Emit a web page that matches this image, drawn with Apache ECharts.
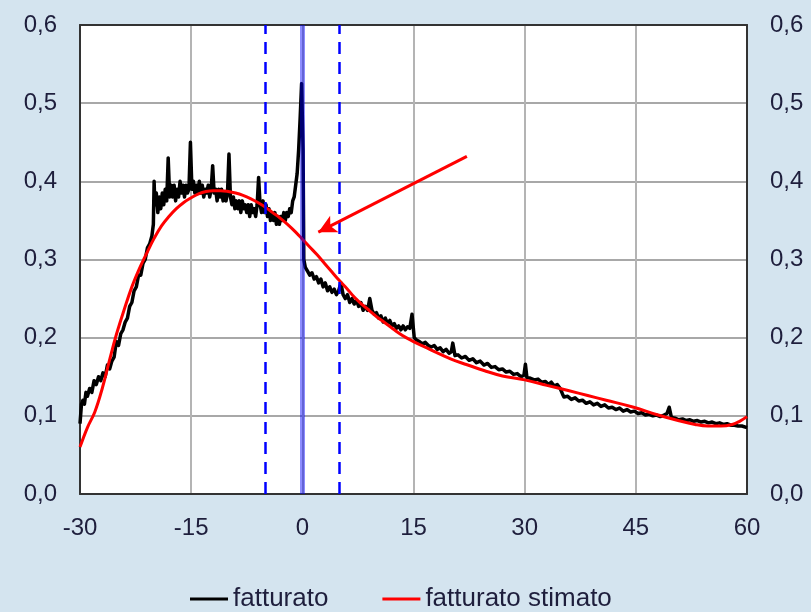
<!DOCTYPE html>
<html>
<head>
<meta charset="utf-8">
<script src="https://cdn.jsdelivr.net/npm/echarts@6/dist/echarts.min.js"></script>
<style>
html,body{margin:0;padding:0;background:#d4e4ef;}
#c{width:811px;height:612px;}
</style>
</head>
<body>
<div id="c"></div>
<script>
const fatturatoRise = [[-30,0.09],[-29.8,0.115],[-29.6,0.12],[-29.4,0.115],[-29.2,0.13],[-29,0.125],[-28.7,0.135],[-28.4,0.13],[-28.1,0.145],[-27.8,0.14],[-27.5,0.15],[-27.2,0.145],[-26.9,0.155],[-26.6,0.15],[-26.3,0.165],[-26,0.16],[-25.7,0.17],[-25.4,0.175],[-25.1,0.195],[-24.8,0.19],[-24.5,0.205],[-24.2,0.21],[-23.9,0.22],[-23.6,0.225],[-23.3,0.24],[-23,0.245],[-22.7,0.26],[-22.4,0.265],[-22.1,0.28],[-21.8,0.28],[-21.5,0.295],[-21.2,0.30],[-20.9,0.315],[-20.6,0.32],[-20.3,0.33],[-20.1,0.345]];
const fatturatoPlateau = [[-20.0,0.40],[-19.9,0.37],[-19.7,0.385],[-19.5,0.36],[-19.3,0.38],[-19.1,0.365],[-18.9,0.385],[-18.7,0.37],[-18.5,0.39],[-18.3,0.375],[-18.1,0.43],[-17.9,0.38],[-17.7,0.395],[-17.5,0.38],[-17.3,0.395],[-17.1,0.375],[-16.9,0.39],[-16.7,0.38],[-16.5,0.40],[-16.3,0.385],[-16.1,0.395],[-15.9,0.38],[-15.7,0.395],[-15.5,0.385],[-15.3,0.39],[-15.1,0.45],[-14.9,0.39],[-14.7,0.40],[-14.5,0.385],[-14.3,0.395],[-14.1,0.385],[-13.9,0.40],[-13.7,0.385],[-13.5,0.395],[-13.3,0.38],[-13.1,0.39],[-12.9,0.385],[-12.7,0.395],[-12.5,0.38],[-12.3,0.39],[-12.1,0.42],[-11.9,0.385],[-11.7,0.39],[-11.5,0.375],[-11.3,0.39],[-11.1,0.38],[-10.9,0.39],[-10.7,0.375],[-10.5,0.385],[-10.3,0.375],[-10.1,0.385],[-9.9,0.435],[-9.7,0.38],[-9.5,0.37],[-9.3,0.38],[-9.1,0.365],[-8.9,0.375],[-8.7,0.365],[-8.5,0.375],[-8.3,0.36],[-8.1,0.375],[-7.9,0.365],[-7.7,0.37],[-7.5,0.36],[-7.3,0.37],[-7.1,0.355],[-6.9,0.37],[-6.7,0.36],[-6.5,0.365],[-6.3,0.355],[-6.1,0.37],[-5.9,0.405],[-5.7,0.37],[-5.5,0.36],[-5.3,0.375],[-5.1,0.36],[-4.9,0.37],[-4.7,0.355],[-4.5,0.365],[-4.3,0.35],[-4.1,0.36],[-3.9,0.35],[-3.7,0.36],[-3.5,0.345],[-3.3,0.355],[-3.1,0.345],[-2.9,0.355],[-2.7,0.35],[-2.5,0.36],[-2.3,0.35],[-2.1,0.36],[-1.9,0.355],[-1.7,0.365],[-1.5,0.36],[-1.3,0.375],[-1.1,0.38],[-0.9,0.395],[-0.7,0.41],[-0.5,0.44],[-0.3,0.48],[-0.1,0.525],[0.1,0.44]];
const fatturatoDrop = [[0.2,0.30],[0.4,0.29],[0.7,0.285],[1.0,0.28],[1.3,0.283],[1.6,0.275],[1.9,0.278],[2.2,0.27],[2.5,0.275],[2.8,0.265],[3.1,0.27],[3.4,0.26],[3.7,0.265],[4.0,0.258],[4.3,0.262],[4.6,0.255],[4.9,0.26],[5.2,0.27],[5.5,0.255],[5.8,0.25],[6.1,0.255],[6.4,0.245],[6.7,0.25],[7.0,0.243],[7.3,0.248],[7.6,0.24],[7.9,0.245],[8.2,0.235],[8.5,0.24],[8.8,0.235],[9.1,0.25],[9.4,0.235],[9.7,0.23],[10.0,0.232],[10.3,0.225],[10.6,0.228],[10.9,0.22],[11.2,0.225],[11.5,0.218],[11.8,0.222],[12.1,0.215],[12.4,0.218],[12.7,0.212],[13.0,0.215],[13.3,0.21],[13.6,0.215],[13.9,0.21],[14.2,0.214],[14.5,0.212],[14.8,0.23],[15.1,0.20]];
const fatturatoTail = [[15.4,0.197],[15.8,0.195],[16.2,0.192],[16.6,0.194],[17,0.19],[17.4,0.188],[17.8,0.19],[18.2,0.185],[18.6,0.187],[19,0.182],[19.4,0.185],[19.8,0.18],[20.1,0.182],[20.3,0.193],[20.6,0.177],[21,0.178],[21.5,0.174],[22,0.176],[22.5,0.171],[23,0.173],[23.5,0.168],[24,0.17],[24.5,0.165],[25,0.167],[25.5,0.162],[26,0.163],[26.5,0.159],[27,0.16],[27.5,0.156],[28,0.157],[28.5,0.153],[29,0.154],[29.5,0.15],[29.9,0.152],[30.1,0.166],[30.3,0.149],[30.8,0.148],[31.3,0.146],[31.8,0.147],[32.3,0.143],[32.8,0.144],[33.2,0.14],[33.6,0.143],[34,0.138],[34.4,0.14],[34.8,0.135],[35.1,0.128],[35.3,0.124],[35.8,0.125],[36.3,0.121],[36.8,0.123],[37.3,0.119],[37.8,0.12],[38.3,0.116],[38.8,0.118],[39.3,0.114],[39.8,0.116],[40.3,0.112],[40.8,0.114],[41.3,0.11],[41.8,0.111],[42.3,0.108],[42.8,0.11],[43.3,0.106],[43.8,0.108],[44.3,0.105],[44.8,0.106],[45.3,0.103],[45.8,0.104],[46.3,0.101],[46.8,0.102],[47.3,0.10],[47.8,0.101],[48.3,0.099],[48.8,0.101],[49.2,0.103],[49.5,0.111],[49.8,0.098],[50.3,0.097],[50.8,0.095],[51.3,0.096],[51.8,0.094],[52.3,0.095],[52.8,0.093],[53.3,0.094],[53.8,0.092],[54.3,0.093],[54.8,0.091],[55.3,0.092],[55.8,0.09],[56.3,0.091],[56.8,0.089],[57.3,0.09],[57.8,0.088],[58.3,0.088],[58.8,0.087],[59.3,0.087],[60,0.085]];

// Estimated revenue (fatturato stimato)
const stimatoX = [-30,-29,-28,-27,-26,-25.5,-25,-24,-23,-22,-21,-20,-19,-18,-17,-16,-15,-14,-13,-12,-11,-10,-9,-8,-7,-6,-5,-4,-3,-2,-1,0,1,2,3,4,5,6,7,8,9,10,11,12,13,14,15,17,20,22,24.5,27,30,33,36,38.5,41,44.7,48,50.7,53,54.7,56.5,58,59,60];
const stimatoY = [0.06,0.085,0.105,0.135,0.172,0.19,0.207,0.237,0.265,0.288,0.308,0.327,0.343,0.355,0.365,0.373,0.379,0.384,0.387,0.388,0.388,0.387,0.385,0.382,0.378,0.373,0.367,0.36,0.353,0.345,0.336,0.326,0.316,0.306,0.295,0.284,0.273,0.263,0.252,0.243,0.235,0.227,0.22,0.213,0.206,0.2,0.195,0.186,0.173,0.166,0.158,0.151,0.146,0.139,0.132,0.126,0.12,0.111,0.101,0.094,0.089,0.087,0.087,0.089,0.093,0.099];

// Reference lines (event window) and annotation arrow
const eventX = 0;
const windowX = [-5, 5];
const arrowFrom = [22.2, 0.432];
const arrowTo = [2.16, 0.335];

// Axis ticks
const xTicks = [-30, -15, 0, 15, 30, 45, 60];
const yTickLabels = ['0,0','0,1','0,2','0,3','0,4','0,5','0,6'];

const seriesNames = ['fatturato', 'fatturato stimato'];

const zip = (xs, ys) => xs.map((x, i) => [x, ys[i]]);
const fatturato = [].concat(fatturatoRise, fatturatoPlateau, fatturatoDrop, fatturatoTail);

const FONT = "'Liberation Sans', Arial, sans-serif";
const LABEL_COLOR = '#1e1e3c';
const BORDER = {show: true, onZero: false, lineStyle: {color: '#333333', width: 2}};
const yLabel = v => yTickLabels[Math.round(v * 10)] ?? '';

const chart = echarts.init(document.getElementById('c'), null, {renderer: 'canvas'});
chart.setOption({
  backgroundColor: '#d4e4ef',
  animation: false,
  textStyle: {fontFamily: FONT},
  grid: {left: 80, right: 64, top: 25, bottom: 118, show: true, backgroundColor: '#ffffff', borderWidth: 0},
  legend: {
    left: 190, top: 586, padding: 0,
    itemWidth: 38, itemHeight: 3, itemGap: 54,
    icon: 'rect',
    textStyle: {fontSize: 26, color: LABEL_COLOR, fontFamily: FONT},
    data: seriesNames
  },
  xAxis: [
    {
      type: 'value', min: xTicks[0], max: xTicks[xTicks.length - 1], interval: 15, position: 'bottom',
      axisLine: BORDER, axisTick: {show: false},
      axisLabel: {fontSize: 24, color: LABEL_COLOR, margin: 22, fontFamily: FONT},
      splitLine: {show: true, lineStyle: {color: '#b4b4b4', width: 2}}
    },
    {
      type: 'value', min: xTicks[0], max: xTicks[xTicks.length - 1], interval: 15, position: 'top',
      axisLine: BORDER, axisTick: {show: false}, axisLabel: {show: false}, splitLine: {show: false}
    }
  ],
  yAxis: [
    {
      type: 'value', min: 0, max: 0.6, interval: 0.1, position: 'left',
      axisLine: BORDER, axisTick: {show: false},
      axisLabel: {fontSize: 24, color: LABEL_COLOR, margin: 23, formatter: yLabel, fontFamily: FONT},
      splitLine: {show: true, lineStyle: {color: '#a8a8a8', width: 2}}
    },
    {
      type: 'value', min: 0, max: 0.6, interval: 0.1, position: 'right',
      axisLine: BORDER, axisTick: {show: false},
      axisLabel: {fontSize: 24, color: LABEL_COLOR, margin: 23, formatter: yLabel, fontFamily: FONT},
      splitLine: {show: false}
    }
  ],
  series: [
    {
      name: seriesNames[0], type: 'line', z: 2,
      data: fatturato,
      showSymbol: false, symbol: 'none',
      lineStyle: {color: '#000000', width: 3.5, join: 'round'},
      itemStyle: {color: '#000000'}
    },
    {
      name: 'lines', type: 'line', z: 3, data: [],
      markLine: {
        silent: true, symbol: ['none', 'none'], label: {show: false},
        data: [
          {xAxis: eventX, lineStyle: {color: 'rgba(0,0,255,0.45)', width: 5, type: 'solid'}},
          {xAxis: windowX[0], lineStyle: {color: '#0000ff', width: 2.5, type: [12, 8]}},
          {xAxis: windowX[1], lineStyle: {color: '#0000ff', width: 2.5, type: [12, 8]}}
        ]
      }
    },
    {
      name: seriesNames[1], type: 'line', z: 4,
      data: zip(stimatoX, stimatoY),
      smooth: 0.4, showSymbol: false, symbol: 'none',
      lineStyle: {color: '#ff0000', width: 3},
      itemStyle: {color: '#ff0000'}
    },
    {
      name: 'arrow', type: 'line', z: 5, data: [],
      markLine: {
        silent: true, symbol: ['none', 'arrow'], symbolSize: [14, 18], label: {show: false},
        lineStyle: {color: '#ff0000', width: 3, type: 'solid'},
        data: [[{coord: arrowFrom}, {coord: arrowTo}]]
      }
    }
  ]
});
</script>
</body>
</html>
